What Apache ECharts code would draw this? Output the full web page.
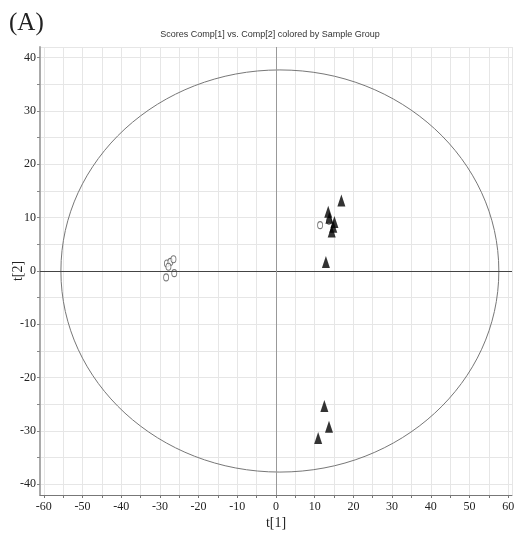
<!DOCTYPE html>
<html lang="en">
<head>
    <meta charset="UTF-8">
    <title>Scores Comp[1] vs. Comp[2]</title>
    <script src="https://cdn.jsdelivr.net/npm/echarts@6/dist/echarts.min.js"></script>
    <style>
        html, body { margin: 0; padding: 0; background: #fff; }
        #container { width: 518px; height: 538px; }
    </style>
</head>
<body>
<div id="container"></div>
<script>
    // group 1 (open circles)
    var circlePoints = [
        [-28.2, 1.4], [-27.3, 1.7], [-26.5, 2.2], [-27.8, 0.8],
        [-26.3, -0.4], [-28.4, -1.2], [11.4, 8.6], [13.7, 9.4]
    ];
    // group 2 (filled triangles)
    var trianglePoints = [
        [16.9, 13.2], [13.5, 11.1], [13.8, 10.0], [15.1, 9.2], [14.8, 8.3],
        [14.4, 7.4], [12.9, 1.7], [12.5, -25.3], [13.7, -29.2], [10.9, -31.3]
    ];
    // Hotelling ellipse: [centerX, centerY, radiusX, radiusY]
    var ellipse = [[1.0, 0, 56.6, 37.7]];

    var xRange = [-61, 61];
    var yRange = [-42, 42];

    var serif = "'Liberation Serif', 'Times New Roman', serif";

    var myChart = echarts.init(document.getElementById('container'));

    var option = {
        backgroundColor: '#fff',
        animation: false,
        title: [{
            text: 'Scores Comp[1] vs. Comp[2] colored by Sample Group',
            left: 265,
            textAlign: 'center',
            top: 25,
            textStyle: {
                fontFamily: "'Liberation Sans Narrow', 'Liberation Sans', sans-serif",
                fontSize: 9,
                fontWeight: 'normal',
                color: '#333'
            }
        }, {
            text: '(A)',
            left: 4,
            top: 6,
            textStyle: {
                fontFamily: serif,
                fontSize: 25,
                fontWeight: 'normal',
                color: '#222'
            }
        }],
        grid: {
            left: 40,
            right: 6,
            top: 47,
            bottom: 43,
            outerBoundsMode: 'none'
        },
        xAxis: {
            type: 'value',
            min: xRange[0],
            max: xRange[1],
            splitNumber: 24,
            name: 't[1]',
            nameLocation: 'middle',
            nameGap: 21,
            nameMoveOverlap: false,
            nameTextStyle: { fontFamily: serif, fontSize: 14, color: '#222' },
            axisLine: { onZero: false, lineStyle: { color: '#777', width: 1 } },
            axisTick: { show: true, length: 3, lineStyle: { color: '#777' } },
            axisLabel: {
                fontFamily: serif,
                fontSize: 12,
                color: '#222',
                margin: 6,
                showMinLabel: false,
                showMaxLabel: false,
                formatter: function (v) { return v % 10 === 0 ? v : ''; }
            },
            splitLine: { show: true, lineStyle: { color: '#e6e6e6', width: 1 } }
        },
        yAxis: {
            type: 'value',
            min: yRange[0],
            max: yRange[1],
            splitNumber: 17,
            name: 't[2]',
            nameLocation: 'middle',
            nameGap: 15,
            nameMoveOverlap: false,
            nameTextStyle: { fontFamily: serif, fontSize: 14, color: '#222' },
            axisLine: { show: true, onZero: false, lineStyle: { color: '#aaa', width: 2 } },
            axisTick: { show: true, length: 3, lineStyle: { color: '#888' } },
            axisLabel: {
                fontFamily: serif,
                fontSize: 12,
                color: '#222',
                margin: 4,
                showMinLabel: false,
                showMaxLabel: false,
                formatter: function (v) { return v % 10 === 0 ? v : ''; }
            },
            splitLine: { show: true, lineStyle: { color: '#e6e6e6', width: 1 } }
        },
        series: [
            {
                type: 'custom',
                silent: true,
                z: 2,
                data: ellipse,
                encode: { x: 0, y: 1 },
                renderItem: function (params, api) {
                    var c = api.coord([api.value(0), api.value(1)]);
                    var s = api.size([api.value(2), api.value(3)]);
                    return {
                        type: 'ellipse',
                        shape: { cx: c[0], cy: c[1], rx: s[0], ry: s[1] },
                        style: { fill: 'none', stroke: '#777', lineWidth: 1 }
                    };
                }
            },
            {
                type: 'scatter',
                z: 3,
                symbol: 'circle',
                symbolSize: [5, 7],
                itemStyle: { color: '#fff', borderColor: '#555', borderWidth: 1 },
                data: circlePoints,
                markLine: {
                    silent: true,
                    symbol: 'none',
                    label: { show: false },
                    data: [
                        { yAxis: 0, lineStyle: { color: '#444', width: 1, type: 'solid' } },
                        { xAxis: 0, lineStyle: { color: '#999', width: 1, type: 'solid' } }
                    ]
                }
            },
            {
                type: 'scatter',
                z: 4,
                symbol: 'triangle',
                symbolSize: [8, 12],
                itemStyle: { color: '#000' },
                data: trianglePoints
            }
        ]
    };

    myChart.setOption(option);
</script>
</body>
</html>
